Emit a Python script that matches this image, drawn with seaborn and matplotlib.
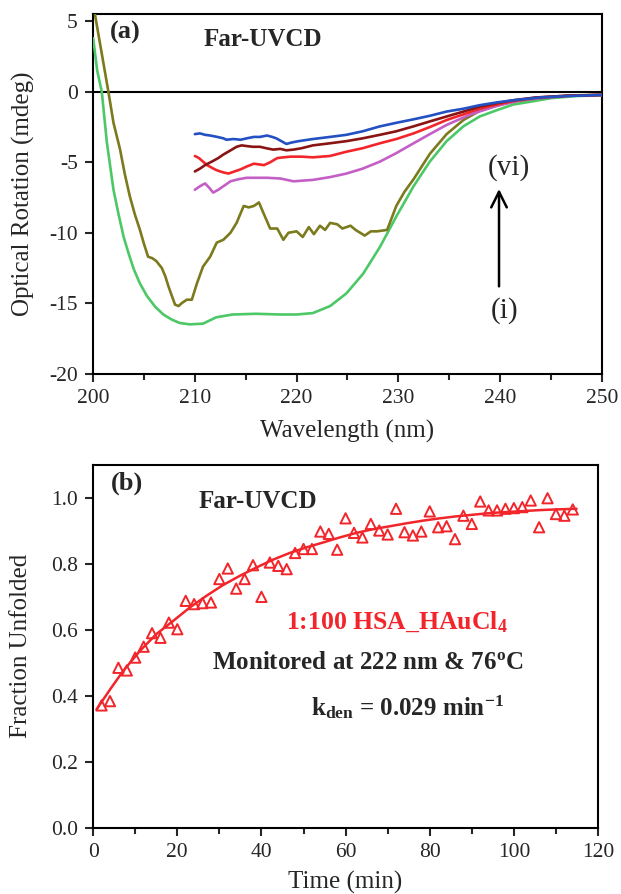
import numpy as np
import pandas as pd
import matplotlib
matplotlib.use("Agg")
import matplotlib.pyplot as plt
import seaborn as sns

# ---------------- Panel (a) data: far-UV CD spectra ----------------
wl_i = [200, 200.4, 200.85, 201.35, 202, 202.5, 203, 203.5, 204, 204.6, 205.3, 206.1, 206.9, 207.7,
        208.5, 209.5, 210.8, 212.1, 213.7, 216, 218.4, 220, 221.6, 223.3, 224.9, 226.55, 228.2,
        229.8, 231.5, 233.1, 234.75, 236.4, 238, 239.7, 241.3, 243, 245, 247.5, 250]
cd_i = [3.8, 1.5, 0, -3.6, -6.95, -8.7, -10.3, -11.5, -12.6, -13.6, -14.5, -15.25, -15.8, -16.15,
        -16.4, -16.5, -16.45, -16.0, -15.8, -15.75, -15.8, -15.8, -15.7, -15.2, -14.3, -12.9, -11.0,
        -8.85, -6.7, -4.95, -3.5, -2.45, -1.75, -1.3, -0.9, -0.7, -0.45, -0.3, -0.25]

wl_ii = [200, 200.2, 200.85, 201.5, 202.0, 202.65, 203.1, 203.6, 204.1, 204.6, 205.0, 205.4, 205.8,
         206.2, 206.75, 207.1, 207.4, 207.75, 208.05, 208.4, 208.7, 209.2, 209.7, 210.2, 210.8,
         211.5, 212.15, 212.8, 213.5, 214.1, 214.8, 215.3, 215.8, 216.3, 216.8, 217.4, 218.1,
         218.7, 219.2, 220.0, 220.6, 221.2, 221.7, 222.3, 222.8, 223.3, 224.0, 224.5, 225.3,
         225.8, 226.7, 227.3, 227.9, 228.9, 229.8, 230.6, 231.5, 232.3, 233.1, 234.75, 236.4,
         238.0, 239.7, 241.3, 243.3, 245.5, 247.5, 250]
cd_ii = [6.5, 5.4, 2.7, 0.0, -2.2, -4.1, -5.8, -7.4, -8.7, -9.8, -10.8, -11.7, -11.8,
         -12.0, -12.5, -13.1, -13.8, -14.5, -15.1, -15.2, -15.0, -14.75, -14.75, -13.6, -12.4,
         -11.7, -10.7, -10.5, -10.0, -9.3, -8.1, -8.2, -8.1, -7.85, -8.7, -9.7, -9.7,
         -10.5, -10.0, -9.9, -10.3, -9.6, -10.1, -9.5, -9.8, -9.3, -9.4, -9.7, -9.5,
         -9.8, -10.2, -9.9, -9.9, -9.8, -8.1, -7.1, -6.2, -5.3, -4.4, -3.0, -2.0,
         -1.35, -0.95, -0.7, -0.5, -0.35, -0.25, -0.2]

wl_iii = [210, 210.5, 211.0, 211.4, 211.8, 212.3, 212.8, 213.5, 214.3, 215.1, 216.1, 217.1, 218.4,
          219.7, 221.6, 223.3, 224.9, 226.5, 228.2, 229.8, 231.5, 233.1, 234.75, 237.1, 239.7,
          242, 244.5, 247, 250]
cd_iii = [-6.95, -6.7, -6.5, -6.8, -7.15, -6.95, -6.7, -6.35, -6.2, -6.1, -6.1, -6.1, -6.15,
          -6.35, -6.25, -6.05, -5.8, -5.45, -4.95, -4.35, -3.65, -3.0, -2.35, -1.6, -1.0,
          -0.6, -0.4, -0.28, -0.22]

wl_iv = [210, 210.4, 210.8, 211.2, 211.7, 212.1, 212.7, 213.3, 213.9, 214.5, 215.1, 215.8, 216.3,
         216.8, 217.4, 218.1, 218.7, 219.4, 220.5, 221.6, 223.3, 224.9, 226.5, 228.2, 229.8,
         231.5, 233.1, 234.75, 236.4, 238.0, 239.7, 241.3, 243.5, 246.5, 250]
cd_iv = [-4.55, -4.7, -4.95, -5.2, -5.4, -5.55, -5.7, -5.8, -5.65, -5.5, -5.3, -5.1, -5.15,
         -5.2, -5.0, -4.7, -4.65, -4.6, -4.6, -4.65, -4.55, -4.25, -4.0, -3.65, -3.35,
         -2.95, -2.5, -2.0, -1.6, -1.2, -0.9, -0.65, -0.42, -0.28, -0.22]

wl_v = [210, 210.5, 211.0, 211.4, 211.8, 212.3, 212.8, 213.4, 214.1, 214.6, 215.1, 215.7, 216.4,
        217.0, 217.7, 218.4, 219.0, 219.7, 220.5, 221.6, 223.3, 224.9, 226.5, 228.2, 229.8,
        231.5, 233.1, 234.75, 236.4, 238.0, 239.7, 241.3, 243.5, 246.5, 250]
cd_v = [-5.65, -5.45, -5.2, -5.05, -4.9, -4.7, -4.45, -4.2, -3.9, -3.8, -3.85, -3.9, -3.9,
        -4.0, -4.1, -4.05, -4.15, -4.1, -4.0, -3.8, -3.65, -3.5, -3.3, -3.05, -2.8,
        -2.45, -2.1, -1.75, -1.4, -1.05, -0.8, -0.6, -0.4, -0.28, -0.22]

wl_vi = [210, 210.5, 211, 211.5, 212.2, 212.8, 213.1, 213.8, 214.5, 215.1, 215.8, 216.4, 217.1,
         217.6, 218.0, 218.5, 219.0, 219.5, 220.2, 221.6, 223.3, 224.9, 226.5, 228.2, 229.8,
         231.5, 233.1, 234.75, 236.4, 238.0, 239.7, 241.3, 243.9, 246.5, 250]
cd_vi = [-3.0, -2.95, -3.05, -3.1, -3.2, -3.3, -3.4, -3.35, -3.4, -3.3, -3.2, -3.2, -3.1,
         -3.2, -3.3, -3.5, -3.7, -3.6, -3.5, -3.35, -3.2, -3.05, -2.8, -2.45, -2.2,
         -1.95, -1.7, -1.4, -1.2, -0.95, -0.75, -0.6, -0.4, -0.3, -0.22]

curve_colors = ["#4cc866", "#7b7a1c", "#c35fc6", "#f2252a", "#8a1414", "#2350c2"]

# ---------------- Panel (b) data: kinetics ----------------
time_min = [2, 4, 6, 8, 10, 12, 14, 16, 18, 20, 22, 24, 26, 28, 30, 32, 34, 36, 38, 40,
            42, 44, 46, 48, 50, 52, 54, 56, 58, 60, 62, 64, 66, 68, 70, 72, 74, 76, 78, 80,
            82, 84, 86, 88, 90, 92, 94, 96, 98, 100, 102, 104, 106, 108, 110, 112, 114]
frac_unf = [0.371, 0.384, 0.485, 0.477, 0.516, 0.549, 0.590, 0.576, 0.622, 0.602,
            0.688, 0.678, 0.681, 0.683, 0.754, 0.786, 0.725, 0.754, 0.796, 0.700,
            0.804, 0.794, 0.784, 0.833, 0.845, 0.845, 0.898, 0.891, 0.843, 0.938,
            0.894, 0.880, 0.921, 0.901, 0.889, 0.967, 0.896, 0.886, 0.898, 0.959,
            0.911, 0.914, 0.875, 0.946, 0.921, 0.989, 0.962, 0.962, 0.967, 0.969,
            0.972, 0.992, 0.911, 0.999, 0.951, 0.946, 0.965]

fit_t = [0.8, 4.0, 7.1, 11.1, 15.0, 19.0, 23.0, 26.9, 30.9, 34.9, 38.8, 42.8, 46.7, 50.7,
         54.7, 58.6, 62.6, 66.5, 70.5, 74.5, 78.4, 82.4, 86.3, 90.3, 94.3, 98.2, 102.2, 106.2,
         110.1, 114.9]
fit_y = [0.359, 0.419, 0.475, 0.536, 0.587, 0.627, 0.668, 0.703, 0.736, 0.764, 0.789, 0.813,
         0.833, 0.850, 0.865, 0.880, 0.894, 0.905, 0.914, 0.923, 0.931, 0.938, 0.944, 0.949,
         0.954, 0.957, 0.960, 0.963, 0.965, 0.967]

red = "#f2252a"

# ---------------- style ----------------
sns.set_style("ticks")
plt.rcParams["font.family"] = ["Liberation Serif", "DejaVu Serif"]
plt.rcParams["mathtext.default"] = "regular"
plt.rcParams["axes.unicode_minus"] = False
plt.rcParams["axes.linewidth"] = 1.5
plt.rcParams["axes.edgecolor"] = "black"

fig = plt.figure(figsize=(6.21, 8.94), dpi=100)
ax1 = fig.add_axes([0.150, 0.582, 0.819, 0.402])
ax2 = fig.add_axes([0.150, 0.074, 0.813, 0.406])

# ---- Panel (a)
ax1.axhline(0, color="black", lw=1.5, zorder=1)
spectra = [(wl_i, cd_i), (wl_ii, cd_ii), (wl_iii, cd_iii), (wl_iv, cd_iv), (wl_v, cd_v), (wl_vi, cd_vi)]
for (w, c), col in zip(spectra, curve_colors):
    sns.lineplot(x=w, y=c, ax=ax1, color=col, lw=1.9, sort=False, estimator=None, zorder=3)

ax1.set_xlim(200, 250)
ax1.set_ylim(-20, 5.5)
ax1.set_xticks([200, 210, 220, 230, 240, 250])
ax1.set_xticks([205, 215, 225, 235, 245], minor=True)
ax1.set_yticks([5, 0, -5, -10, -15, -20])
ax1.set_xlabel("Wavelength (nm)", fontsize=18)
ax1.set_ylabel("Optical Rotation (mdeg)", fontsize=18)
ax1.xaxis.set_label_coords(0.5, -0.128)
ax1.yaxis.set_label_coords(-0.114, 0.5)

ax1.text(203.2, 4.2, "(a)", fontsize=19, fontweight="bold", ha="center", va="center")
ax1.text(216.7, 3.7, "Far-UVCD", fontsize=18, fontweight="bold", ha="center", va="center")
ax1.annotate("", xy=(239.9, -6.7), xytext=(239.9, -14.0),
             arrowprops=dict(arrowstyle="->", lw=1.8, color="black", mutation_scale=28))
ax1.text(240.9, -5.4, "(vi)", fontsize=21, ha="center", va="center")
ax1.text(240.4, -15.5, "(i)", fontsize=21, ha="center", va="center")

# ---- Panel (b)
sns.lineplot(x=fit_t, y=fit_y, ax=ax2, color=red, lw=1.8, sort=False, estimator=None, zorder=2)
sns.scatterplot(x=time_min, y=frac_unf, ax=ax2, marker="^", s=55, facecolors="none",
                edgecolor=red, linewidth=1.4, zorder=3)

ax2.set_xlim(0, 120)
ax2.set_ylim(0, 1.1)
ax2.set_xticks([0, 20, 40, 60, 80, 100, 120])
ax2.set_xticks([10, 30, 50, 70, 90, 110], minor=True)
ax2.set_yticks([0.0, 0.2, 0.4, 0.6, 0.8, 1.0])
ax2.set_yticklabels(["0.0", "0.2", "0.4", "0.6", "0.8", "1.0"])
ax2.set_xlabel("Time (min)", fontsize=18)
ax2.set_ylabel("Fraction Unfolded", fontsize=18)
ax2.xaxis.set_label_coords(0.5, -0.118)
ax2.yaxis.set_label_coords(-0.121, 0.5)

ax2.text(8.1, 1.043, "(b)", fontsize=19, fontweight="bold", ha="center", va="center")
ax2.text(39.2, 0.988, "Far-UVCD", fontsize=18, fontweight="bold", ha="center", va="center")
ax2.text(72.2, 0.623, "1:100 HSA_HAuCl$_4$", fontsize=18.5, fontweight="bold", color=red,
         ha="center", va="center")
ax2.text(65.3, 0.50, "Monitored at 222 nm & 76$^o$C", fontsize=18, fontweight="bold",
         ha="center", va="center")
ax2.text(74.6, 0.365, "k$_{den}$ = 0.029 min$^{-1}$", fontsize=18, fontweight="bold",
         ha="center", va="center")

for ax in (ax1, ax2):
    for s in ax.spines.values():
        s.set_visible(True)
        s.set_linewidth(1.5)
    ax.tick_params(axis="both", which="major", direction="out", length=6, width=1.5,
                   labelsize=15.5, top=False, right=False, pad=5)
    ax.tick_params(axis="both", which="minor", direction="out", length=4, width=1.5,
                   top=False, right=False)
    ax.tick_params(axis="y", which="minor", left=False)

fig.savefig("out.png", dpi=100)
